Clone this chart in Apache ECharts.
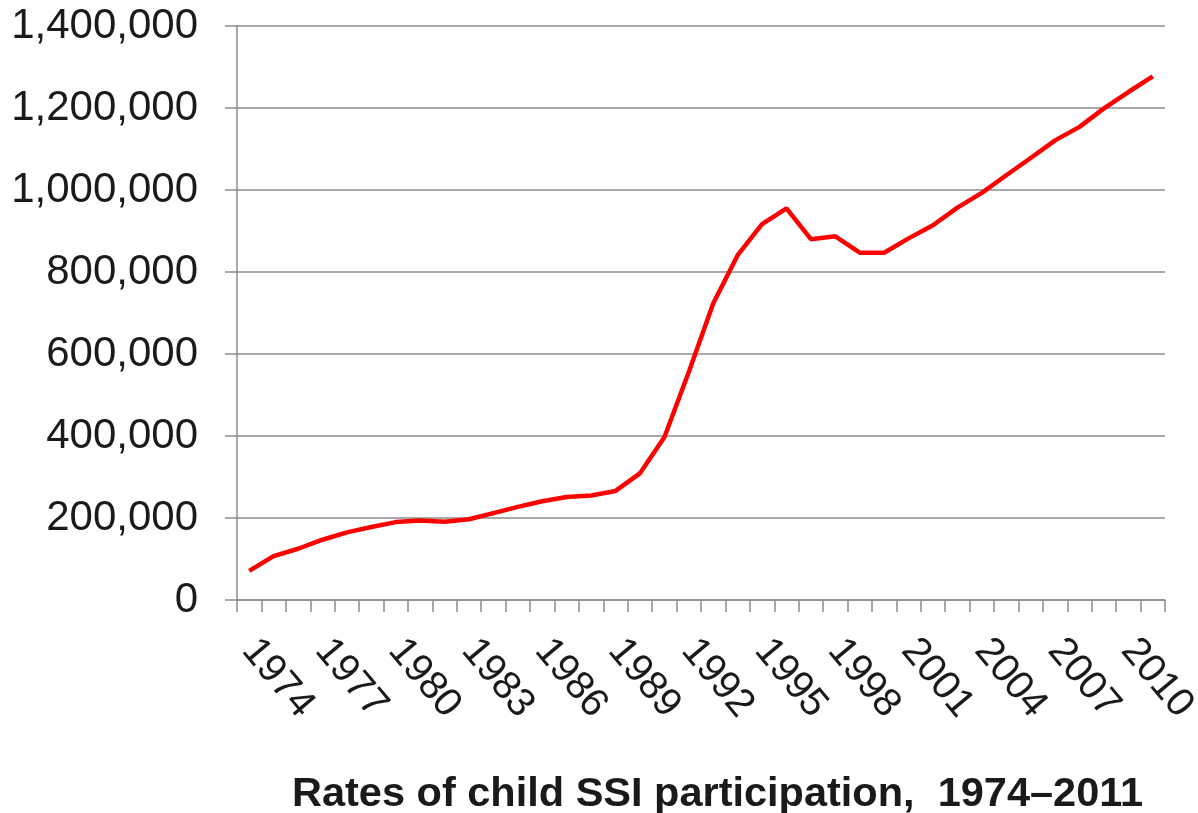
<!DOCTYPE html>
<html>
<head>
<meta charset="utf-8">
<script src="https://cdn.jsdelivr.net/npm/echarts@6/dist/echarts.min.js"></script>
<style>
  html, body { margin: 0; padding: 0; background: #fff; }
  #chart { width: 1198px; height: 813px; }
</style>
</head>
<body>
<div id="chart"></div>
<script>
// years 1974..2011
var years = ['1974','1975','1976','1977','1978','1979','1980','1981','1982','1983',
             '1984','1985','1986','1987','1988','1989','1990','1991','1992','1993',
             '1994','1995','1996','1997','1998','1999','2000','2001','2002','2003',
             '2004','2005','2006','2007','2008','2009','2010','2011'];
// child SSI recipients
var recipients = [71000, 107000, 125000, 147000, 165000, 178000, 190000, 194000, 191000, 197000,
                  212000, 227000, 241000, 251000, 255000, 266000, 309000, 397000, 556000, 723000,
                  841000, 917000, 955000, 880000, 887000, 847000, 847000, 882000, 914000, 957000,
                  993000, 1036000, 1078000, 1121000, 1154000, 1199000, 1239000, 1277000];
var yTicks = [0, 200000, 400000, 600000, 800000, 1000000, 1200000, 1400000];
var chartTitle = 'Rates of child SSI participation,  1974\u20132011';

var gray = '#8c8c8c';
var ink = '#1a1a1a';

var myChart = echarts.init(document.getElementById('chart'));
var option = {
    animation: false,
    title: {
        text: chartTitle,
        left: 287,
        top: 769,
        textStyle: {
            fontFamily: 'Liberation Sans',
            fontWeight: 'bold',
            fontSize: 41.5,
            color: ink
        }
    },
    grid: {
        left: 237,
        right: 33,
        top: 26,
        bottom: 213,
        containLabel: false,
        outerBoundsMode: 'none'
    },
    xAxis: {
        type: 'category',
        data: years,
        boundaryGap: true,
        axisLine: { lineStyle: { color: gray, width: 1.5 } },
        axisTick: { show: true, interval: 0, length: 12, lineStyle: { color: gray, width: 1.5 } },
        axisLabel: {
            interval: 2,
            rotate: -50,
            margin: 44,
            fontFamily: 'Liberation Sans',
            fontSize: 40,
            color: ink
        },
        splitLine: { show: false }
    },
    yAxis: {
        type: 'value',
        min: yTicks[0],
        max: yTicks[yTicks.length - 1],
        interval: 200000,
        axisLine: { show: true, lineStyle: { color: gray, width: 1.5 } },
        axisTick: { show: true, length: 12, lineStyle: { color: gray, width: 1.5 } },
        axisLabel: {
            margin: 39,
            fontFamily: 'Liberation Sans',
            fontSize: 42,
            color: ink,
            formatter: function (v) { return v.toLocaleString('en-US'); }
        },
        splitLine: { show: true, lineStyle: { color: gray, width: 1.5 } }
    },
    series: [
        {
            type: 'line',
            data: recipients,
            symbol: 'none',
            lineStyle: { color: '#ff0000', width: 4.5 }
        }
    ]
};
myChart.setOption(option);
</script>
</body>
</html>
